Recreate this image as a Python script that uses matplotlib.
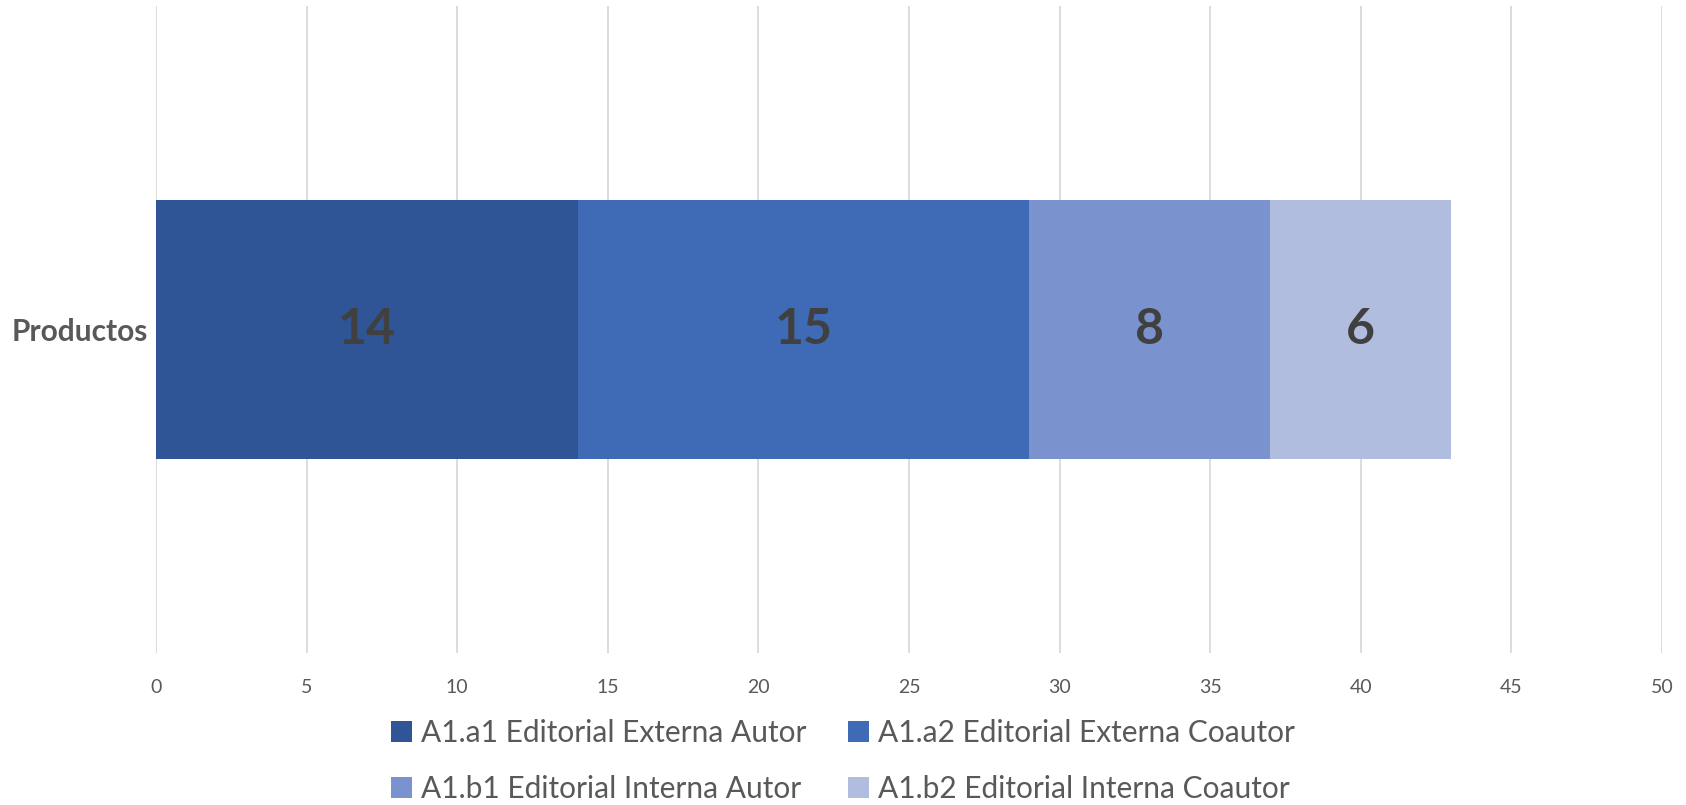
import matplotlib.pyplot as plt

plt.rcParams['font.family'] = ['Lato', 'DejaVu Sans']

# data
categoria = ['Productos']
series = ['A1.a1 Editorial Externa Autor', 'A1.a2 Editorial Externa Coautor',
          'A1.b1 Editorial Interna Autor', 'A1.b2 Editorial Interna Coautor']
valores = [14, 15, 8, 6]
colores = ['#2F5597', '#3E6AB6', '#7A92CE', '#B1BDDE']
xticks = [0, 5, 10, 15, 20, 25, 30, 35, 40, 45, 50]

fig = plt.figure(figsize=(16.86, 8.05), dpi=100)
ax = fig.add_axes([0.0925, 0.1888, 0.8933, 0.8037])

izq = 0
barras = []
for nombre, v, c in zip(series, valores, colores):
    b = ax.barh(categoria, [v], left=[izq], height=0.4, color=c, label=nombre, zorder=3)
    ax.bar_label(b, labels=[str(v)], label_type='center', fontsize=36,
                 fontweight='bold', color='#404040')
    barras.append(b)
    izq += v

ax.set_xlim(0, 50)
ax.set_ylim(-0.5, 0.5)
ax.set_xticks(xticks)
ax.grid(axis='x', color='#D9D9D9', linewidth=1.3, zorder=0)
for s in ax.spines.values():
    s.set_visible(False)
ax.tick_params(axis='both', length=0)
ax.tick_params(axis='x', labelsize=14, labelcolor='#595959', pad=19)
ax.tick_params(axis='y', labelsize=21.5, labelcolor='#595959', pad=6)
for t in ax.get_yticklabels():
    t.set_fontweight('bold')

# legend rows: a1, a2 / b1, b2
orden = [0, 2, 1, 3]
fig.legend([barras[i] for i in orden], [series[i] for i in orden],
           loc='center', bbox_to_anchor=(0.5, 0.055), ncol=2, frameon=False,
           fontsize=21.5, labelcolor='#595959', handlelength=0.7, handleheight=0.7,
           handletextpad=0.3, columnspacing=1.4, labelspacing=0.95)

fig.savefig('out.png', dpi=100, facecolor='white')
